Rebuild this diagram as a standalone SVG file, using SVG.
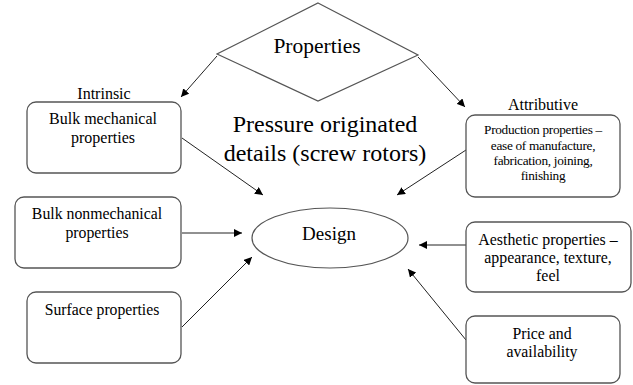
<svg xmlns="http://www.w3.org/2000/svg" width="633" height="385" viewBox="0 0 633 385">
<defs>
<marker id="ah" viewBox="0 0 10 10" refX="10" refY="5" markerWidth="8" markerHeight="8" orient="auto" markerUnits="userSpaceOnUse"><path d="M0,0 L10,5 L0,10 z" fill="#000"/></marker>
<style>
.box{fill:#fff;stroke:#555;stroke-width:1.3}
.c{stroke:#222;stroke-width:1;fill:none;marker-end:url(#ah)}
</style>
</defs>
<rect width="633" height="385" fill="#fff"/>
<g id="connectors">
<line class="c" x1="217" y1="56" x2="181" y2="97"/>
<line class="c" x1="418" y1="57" x2="465" y2="107"/>
<line class="c" x1="182" y1="138" x2="263" y2="195"/>
<line class="c" x1="182" y1="233" x2="242" y2="233"/>
<line class="c" x1="182" y1="327" x2="252" y2="257"/>
<line class="c" x1="466" y1="150" x2="397" y2="195"/>
<line class="c" x1="466" y1="245" x2="419" y2="245"/>
<line class="c" x1="466" y1="340" x2="408" y2="269"/>
</g>
<g font-family="'Liberation Serif', serif" text-anchor="middle" fill="#000">
<g id="properties">
<polygon points="318,3 418,55 318,101 217,54" fill="#fff" stroke="#555" stroke-width="1.2"/>
<text x="317" y="53" font-size="21.5">Properties</text>
</g>
<g id="intrinsic-label"><text x="104" y="99" font-size="16">Intrinsic</text></g>
<g id="attributive-label"><text x="543" y="110" font-size="16">Attributive</text></g>
<g id="title"><text x="325" y="132" font-size="24">Pressure originated</text>
<text x="325" y="161" font-size="24">details (screw rotors)</text></g>
<g id="bulk-mech">
<rect class="box" x="27" y="102" width="154" height="71" rx="9"/>
<text x="103" y="124" font-size="16">Bulk mechanical</text>
<text x="103" y="143" font-size="16">properties</text>
</g>
<g id="bulk-nonmech">
<rect class="box" x="15" y="197" width="166" height="71" rx="9"/>
<text x="97" y="219" font-size="15.8">Bulk nonmechanical</text>
<text x="97" y="238" font-size="15.8">properties</text>
</g>
<g id="surface">
<rect class="box" x="27" y="292" width="154" height="71" rx="9"/>
<text x="102" y="315" font-size="15.7">Surface properties</text>
</g>
<g id="design">
<ellipse cx="330" cy="238" rx="78" ry="30" fill="#fff" stroke="#555" stroke-width="1.2"/>
<text x="329" y="240" font-size="19">Design</text>
</g>
<g id="production">
<rect class="box" x="466" y="115" width="154" height="82" rx="9"/>
<text x="543" y="134" font-size="13.3" letter-spacing="-0.3">Production properties –</text>
<text x="543" y="150" font-size="13.3" letter-spacing="-0.3">ease of manufacture,</text>
<text x="543" y="165" font-size="13.3" letter-spacing="-0.3">fabrication, joining,</text>
<text x="543" y="180" font-size="13.3" letter-spacing="-0.3">finishing</text>
</g>
<g id="aesthetic">
<rect class="box" x="466" y="222" width="165" height="70" rx="9"/>
<text x="548" y="245" font-size="15.9">Aesthetic properties –</text>
<text x="548" y="263" font-size="15.9">appearance, texture,</text>
<text x="548" y="281" font-size="15.9">feel</text>
</g>
<g id="price">
<rect class="box" x="466" y="316" width="154" height="67" rx="9"/>
<text x="542" y="339" font-size="15.8">Price and</text>
<text x="542" y="357" font-size="15.8">availability</text>
</g>
</g>
</svg>
